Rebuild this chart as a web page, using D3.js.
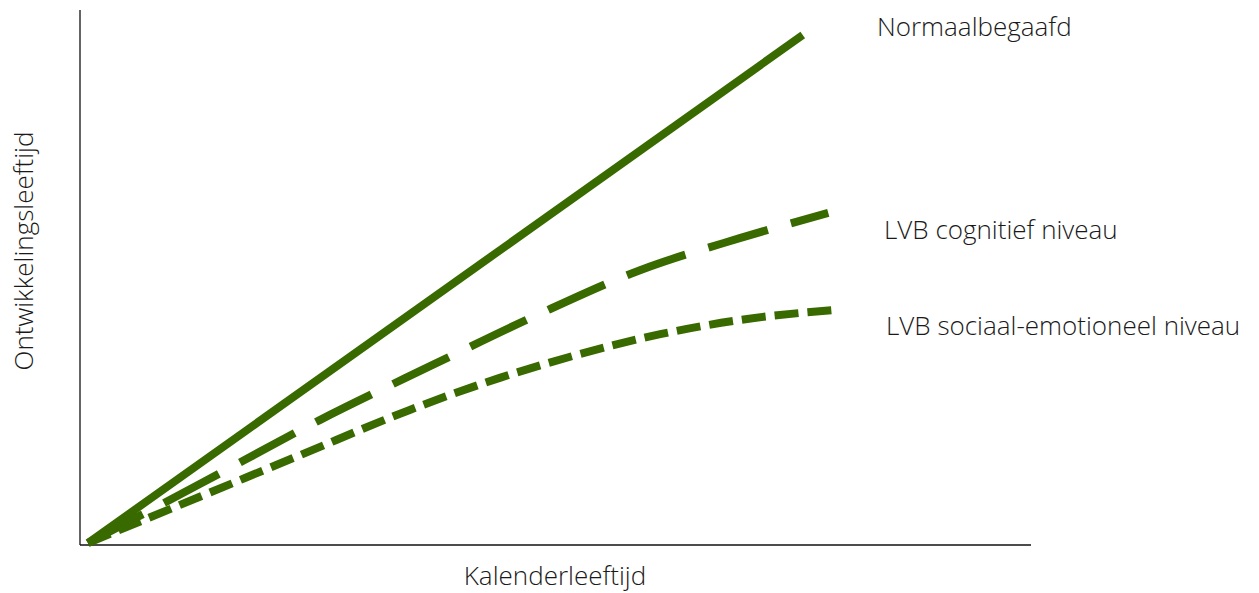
<!DOCTYPE html>
<html>
<head>
<meta charset="utf-8">
<script src="https://cdn.jsdelivr.net/npm/d3@7"></script>
<style>
  body { margin: 0; background: #fff; }
  text { font-family: "Open Sans", "Noto Sans", sans-serif; font-weight: 300; fill: #1a1a1a; }
</style>
</head>
<body>
<div class="chart"></div>
<script>
// calendar age (x) vs developmental age (y), 0..100 on both axes
const normaalX = [0, 95.3];
const normaalY = [0, 100];

const cognitiefX = [0, 14.9, 30.9, 45.6, 59.9, 73.6, 86.9, 98.7];
const cognitiefY = [0, 11.6, 24.2, 34.8, 44.9, 53.7, 60.0, 65.0];

const sociaalX = [0, 14.9, 28.3, 42.9, 54.9, 65.6, 76.3, 86.9, 99.6];
const sociaalY = [0, 9.1, 17.3, 26.2, 32.5, 37.2, 41.1, 43.9, 45.9];

const seriesNames = ["Normaalbegaafd", "LVB cognitief niveau", "LVB sociaal-emotioneel niveau"];
const xTitle = "Kalenderleeftijd";
const yTitle = "Ontwikkelingsleeftijd";

const width = 1259, height = 593;
const green = "#386a00";

const svg = d3.select(".chart").append("svg")
    .attr("width", width)
    .attr("height", height);

const x = d3.scaleLinear().domain([0, 100]).range([88, 838]);
const y = d3.scaleLinear().domain([0, 100]).range([543, 35]);

// axes: just bare lines, no ticks
svg.append("line")
    .attr("x1", 80).attr("x2", 80)
    .attr("y1", 10).attr("y2", 545)
    .style("stroke", "#111").style("stroke-width", 1.3);
svg.append("line")
    .attr("x1", 80).attr("x2", 1031)
    .attr("y1", 545).attr("y2", 545)
    .style("stroke", "#111").style("stroke-width", 1.3);

const line = d3.line()
    .x(d => x(d[0]))
    .y(d => y(d[1]))
    .curve(d3.curveMonotoneX);

const series = [
  {name: seriesNames[0], pts: d3.zip(normaalX, normaalY), dash: null, lx: 877, ly: 36},
  {name: seriesNames[1], pts: d3.zip(cognitiefX, cognitiefY), dash: "62,24", lx: 884, ly: 239},
  {name: seriesNames[2], pts: d3.zip(sociaalX, sociaalY), dash: "24,9", lx: 886, ly: 335}
];

svg.selectAll(".series")
    .data(series)
  .enter().append("path")
    .attr("class", "series")
    .attr("d", d => line(d.pts))
    .style("fill", "none")
    .style("stroke", green)
    .style("stroke-width", 8)
    .style("stroke-dasharray", d => d.dash);

svg.selectAll(".label")
    .data(series)
  .enter().append("text")
    .attr("class", "label")
    .attr("x", d => d.lx)
    .attr("y", d => d.ly)
    .style("font-size", "26px")
    .text(d => d.name);

svg.append("text")
    .attr("x", 555).attr("y", 585)
    .style("text-anchor", "middle")
    .style("font-size", "26px")
    .text(xTitle);

svg.append("text")
    .attr("transform", "translate(33,251) rotate(-90)")
    .style("text-anchor", "middle")
    .style("font-size", "26px")
    .text(yTitle);
</script>
</body>
</html>
